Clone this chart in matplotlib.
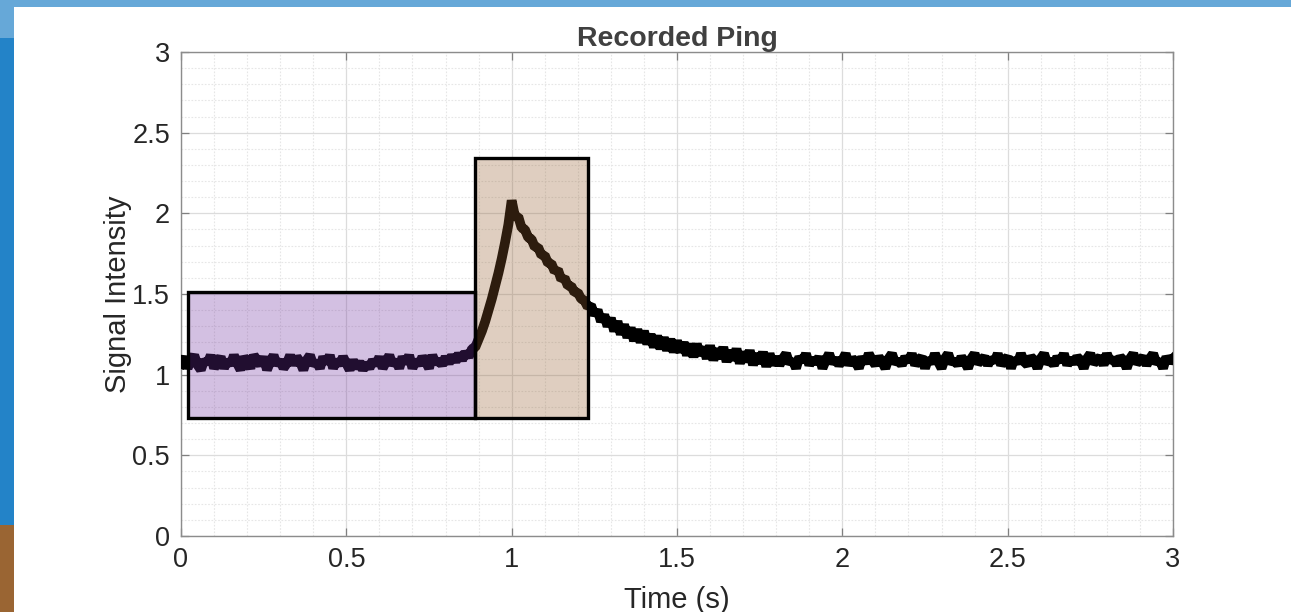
import numpy as np
import matplotlib
matplotlib.use("Agg")
import matplotlib.pyplot as plt
from matplotlib.patches import Rectangle

# ---- data ----
signal = [
    1.07, 1.11, 1.04, 1.09, 1.12, 1.06, 1.03, 1.09, 1.07, 1.12,
    1.04, 1.08, 1.11, 1.04, 1.09, 1.06, 1.12, 1.07, 1.03, 1.11,
    1.08, 1.04, 1.12, 1.09, 1.06, 1.11, 1.03, 1.08, 1.12, 1.06,
    1.09, 1.04, 1.07, 1.12, 1.06, 1.11, 1.08, 1.03, 1.09, 1.12,
    1.06, 1.08, 1.04, 1.11, 1.07, 1.12, 1.04, 1.09, 1.06, 1.11,
    1.07, 1.03, 1.09, 1.04, 1.08, 1.03, 1.07, 1.04, 1.09, 1.06,
    1.11, 1.04, 1.08, 1.12, 1.06, 1.09, 1.04, 1.11, 1.07, 1.12,
    1.04, 1.09, 1.06, 1.11, 1.08, 1.04, 1.12, 1.07, 1.09, 1.06,
    1.11, 1.07, 1.12, 1.08, 1.13, 1.09, 1.14, 1.11, 1.16, 1.17,
    1.22, 1.27, 1.33, 1.40, 1.47, 1.55, 1.63, 1.72, 1.82, 1.93,
    2.08, 1.98, 1.98, 1.91, 1.90, 1.85, 1.84, 1.79, 1.79, 1.74,
    1.74, 1.69, 1.69, 1.64, 1.65, 1.59, 1.60, 1.55, 1.55, 1.51,
    1.51, 1.47, 1.46, 1.42, 1.43, 1.37, 1.40, 1.33, 1.37, 1.30,
    1.35, 1.27, 1.33, 1.25, 1.31, 1.23, 1.29, 1.21, 1.28, 1.20,
    1.27, 1.19, 1.25, 1.17, 1.24, 1.16, 1.23, 1.15, 1.22, 1.14,
    1.21, 1.14, 1.20, 1.12, 1.19, 1.11, 1.19, 1.12, 1.17, 1.10,
    1.18, 1.09, 1.16, 1.10, 1.17, 1.08, 1.15, 1.09, 1.16, 1.07,
    1.14, 1.08, 1.15, 1.06, 1.13, 1.07, 1.14, 1.05, 1.13, 1.06,
    1.11, 1.06, 1.10, 1.13, 1.07, 1.09, 1.04, 1.11, 1.08, 1.13,
    1.06, 1.10, 1.07, 1.11, 1.04, 1.09, 1.13, 1.07, 1.10, 1.06,
    1.09, 1.13, 1.06, 1.10, 1.08, 1.04, 1.11, 1.07, 1.13, 1.09,
    1.06, 1.11, 1.08, 1.04, 1.10, 1.13, 1.07, 1.09, 1.06, 1.11,
    1.08, 1.13, 1.06, 1.09, 1.11, 1.04, 1.10, 1.07, 1.13, 1.08,
    1.04, 1.10, 1.13, 1.07, 1.09, 1.06, 1.11, 1.08, 1.04, 1.10,
    1.13, 1.07, 1.09, 1.11, 1.06, 1.10, 1.08, 1.13, 1.06, 1.09,
    1.11, 1.04, 1.10, 1.07, 1.13, 1.08, 1.06, 1.11, 1.09, 1.04,
    1.10, 1.13, 1.07, 1.09, 1.06, 1.11, 1.08, 1.13, 1.06, 1.10,
    1.07, 1.11, 1.09, 1.04, 1.10, 1.13, 1.07, 1.09, 1.11, 1.06,
    1.13, 1.08, 1.10, 1.06, 1.11, 1.09, 1.04, 1.10, 1.13, 1.07,
    1.09, 1.11, 1.06, 1.10, 1.13, 1.07, 1.09, 1.04, 1.11, 1.08,
    1.10,
]
t_start, t_end = 0.0, 3.0

# highlighted windows: (t0, y0, t1, y1)
box_baseline = [0.02, 0.73, 0.89, 1.51]
box_ping = [0.89, 0.73, 1.23, 2.34]

xticks = [0, 0.5, 1, 1.5, 2, 2.5, 3]
xticklabels = ["0", "0.5", "1", "1.5", "2", "2.5", "3"]
yticks = [0, 0.5, 1, 1.5, 2, 2.5, 3]
yticklabels = ["0", "0.5", "1", "1.5", "2", "2.5", "3"]

title = "Recorded Ping"
xlabel = "Time (s)"
ylabel = "Signal Intensity"

# ---- figure ----
plt.rcParams['font.family'] = ['Liberation Sans', 'DejaVu Sans']
W, H = 1291, 612
fig = plt.figure(figsize=(W / 100, H / 100), dpi=100)
fig.patch.set_facecolor('white')

# slide decorations
def fig_rect(x0, y0, x1, y1, color):
    fig.patches.append(Rectangle((x0 / W, 1 - y1 / H), (x1 - x0) / W, (y1 - y0) / H,
                                 transform=fig.transFigure, facecolor=color,
                                 edgecolor='none', zorder=0))

fig_rect(0, 0, W, 7, '#66a8d8')
fig_rect(0, 7, 14, 38, '#66a8d8')
fig_rect(0, 38, 14, 525, '#2383c8')
fig_rect(0, 525, 14, H, '#9a6533')

ax = fig.add_axes([181 / W, 1 - 536 / H, (1173 - 181) / W, (536 - 52) / H])
t = np.linspace(t_start, t_end, len(signal))
ax.plot(t, signal, color='black', lw=7.0, zorder=3, solid_joinstyle='bevel')

for box, col in [(box_baseline, '#7030a0'), (box_ping, '#965f30')]:
    x0, y0, x1, y1 = box
    ax.add_patch(Rectangle((x0, y0), x1 - x0, y1 - y0, facecolor=col, alpha=0.3,
                           edgecolor='none', zorder=4))
    ax.add_patch(Rectangle((x0, y0), x1 - x0, y1 - y0, facecolor='none',
                           edgecolor='black', lw=2.4, zorder=5))

ax.set_xlim(0, 3)
ax.set_ylim(0, 3)
ax.set_xticks(xticks)
ax.set_xticklabels(xticklabels)
ax.set_yticks(yticks)
ax.set_yticklabels(yticklabels)
ax.set_xticks(np.arange(0, 3.0001, 0.1), minor=True)
ax.set_yticks(np.arange(0, 3.0001, 0.1), minor=True)

ax.grid(True, which='major', color='#dcdcdc', lw=0.9, ls='-', zorder=0)
ax.grid(True, which='minor', color='#e6e6e6', lw=0.8, ls=(0, (1.5, 1.5)), zorder=0)
ax.set_axisbelow(True)

ax.tick_params(which='major', direction='in', length=6, width=0.9, color='#808080',
               top=True, right=True, labelsize=19.5, labelcolor='#262626', pad=8)
ax.tick_params(which='minor', length=0, top=True, right=True)
for s in ax.spines.values():
    s.set_color('#8c8c8c')
    s.set_linewidth(1.0)

ax.set_title(title, fontsize=20.5, fontweight='bold', color='#404040', pad=4)
ax.set_xlabel(xlabel, fontsize=21, color='#262626', labelpad=9)
ax.set_ylabel(ylabel, fontsize=21, color='#262626', labelpad=0)

fig.savefig('out.png', dpi=100)
